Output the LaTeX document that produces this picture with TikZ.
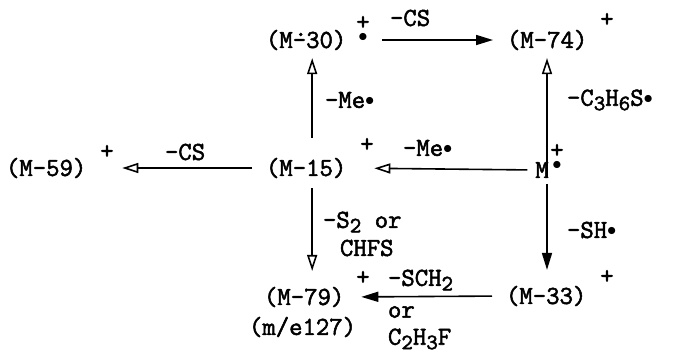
\documentclass[tikz,border=0pt]{standalone}
\usepackage{fontspec}
\setmonofont[FakeBold=2]{Latin Modern Mono}
\usepackage{tikz}
\usetikzlibrary{arrows.meta}
\newcommand{\sub}[1]{\raisebox{-0.4ex}{\fontsize{11}{11}\selectfont #1}}
\newcommand{\rdot}{\raisebox{0.2ex}{$\scriptstyle\bullet$}}
\newcommand{\dothyph}{\makebox[0pt][l]{\hspace{0.05em}\raisebox{6pt}{.}}–}

\begin{document}
\begin{tikzpicture}[x=0.5pt, y=-0.5pt,
  every node/.style={font=\ttfamily\fontsize{13}{14}\selectfont, inner sep=0pt, outer sep=0pt},
  ion/.style={anchor=west},
  lbl/.style={anchor=west},
  chg/.style={align=center, font=\ttfamily\fontsize{13}{7}\selectfont},
  solidhead/.style={-{Triangle[length=8.5pt,width=5pt]}, line width=0.8pt},
  openhead/.style={-{Triangle[open,length=8pt,width=5pt]}, line width=0.8pt}]
  \useasboundingbox (0,0) rectangle (676,355);

  % ions
  \node[ion] (m30) at (266,40) {(M\dothyph30)};
  \node[ion] (m74) at (507,40) {(M–74)};
  \node[ion] (m59) at (6,168) {(M–59)};
  \node[ion] (m15) at (266,168) {(M–15)};
  \node (mm) at (542,170) {M};
  \node[ion] (m33) at (506,296) {(M–33)};
  \node[ion] (m79) at (264,297) {(M–79)};
  \node[ion] (m79mz) at (249,327) {(m/e127)};

  % charges and radicals
  \node[chg] (c30) at (363,30) {+\\\rdot};
  \node (p74) at (607,20) {+};
  \node (p59) at (107,152) {+};
  \node (p15) at (367,145) {+};
  \node[chg] (cm) at (557,158) {+\\\rdot};
  \node (p33) at (607,277) {+};
  \node (p79) at (363,278) {+};

  % arrows
  \draw[solidhead, shorten <=18pt, shorten >=7pt] (m30.east) -- (m74.west);
  \draw[openhead, shorten <=10pt, shorten >=4pt] ([xshift=3pt]m15.north) -- ([xshift=3pt]m15.north |- m30.south);
  \draw[openhead, shorten <=-8pt, shorten >=4pt] ([xshift=2.5pt]mm.north) -- ([xshift=2.5pt]mm.north |- m74.south);
  \draw[openhead, shorten <=4pt, shorten >=14pt] (mm.west) -- (m15.east);
  \draw[openhead, shorten <=7pt, shorten >=18pt] (m15.west) -- (m59.east);
  \draw[solidhead, shorten <=3pt, shorten >=8pt] ([xshift=2.5pt]mm.south) -- ([xshift=2.5pt]mm.south |- m33.north);
  \draw[openhead, shorten <=5pt, shorten >=8pt] ([xshift=3pt]m15.south) -- ([xshift=3pt]m15.south |- m79.north);
  \draw[solidhead, shorten <=7pt, shorten >=8.5pt] (m33.west) -- (m79.east);

  % labels
  \node[lbl] (lcs1) at (390,18) {–CS};
  \node[lbl] (lme1) at (325,100) {–Me\rdot};
  \node[lbl] (lc3) at (567,100) {–C\sub{3}H\sub{6}S\rdot};
  \node[lbl] (lcs2) at (165,152) {–CS};
  \node[lbl] (lme2) at (403,148) {–Me\rdot};
  \node[lbl] (lsh) at (567,230) {–SH\rdot};
  \node[lbl] (ls2) at (323,222) {–S\sub{2} or};
  \node[lbl] (lchfs) at (340,248) {CHFS};
  \node[lbl] (lsch) at (388,280) {–SCH\sub{2}};
  \node[lbl] (lor) at (388,312) {or};
  \node[lbl] (lc2) at (388,339) {C\sub{2}H\sub{3}F};
\end{tikzpicture}
\end{document}
